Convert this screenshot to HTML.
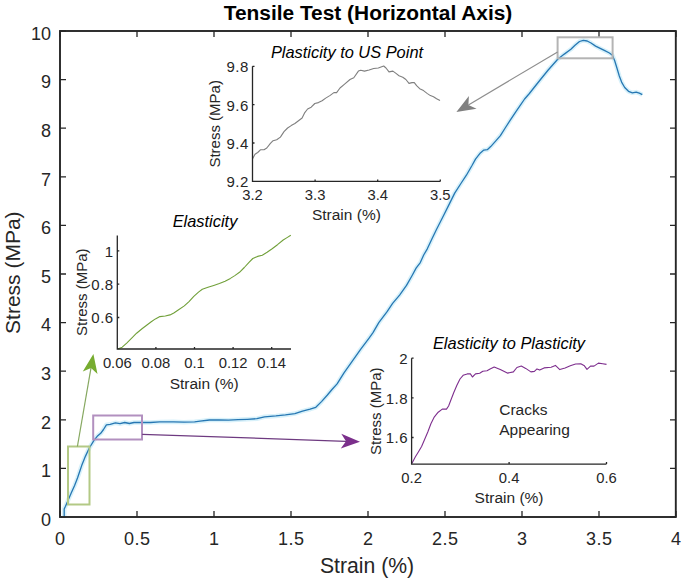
<!DOCTYPE html>
<html><head><meta charset="utf-8"><style>
html,body{margin:0;padding:0;background:#fff;width:685px;height:579px;overflow:hidden;font-family:"Liberation Sans", sans-serif;}
</style></head><body>
<svg width="685" height="579" viewBox="0 0 685 579" style="position:absolute;left:0;top:0"><rect x="0" y="0" width="685" height="579" fill="#ffffff"/><path d="M60.0,517V511M60.0,31V37M137.0,517V511M137.0,31V37M214.0,517V511M214.0,31V37M291.0,517V511M291.0,31V37M368.0,517V511M368.0,31V37M445.0,517V511M445.0,31V37M522.0,517V511M522.0,31V37M599.0,517V511M599.0,31V37M676.0,517V511M676.0,31V37M60,517.0H66M676,517.0H670M60,468.4H66M676,468.4H670M60,419.8H66M676,419.8H670M60,371.2H66M676,371.2H670M60,322.6H66M676,322.6H670M60,274.0H66M676,274.0H670M60,225.4H66M676,225.4H670M60,176.8H66M676,176.8H670M60,128.2H66M676,128.2H670M60,79.6H66M676,79.6H670M60,31.0H66M676,31.0H670" stroke="#262626" stroke-width="1.3" fill="none"/><polyline points="64.2,517.5 64.2,509.0 65.5,506.3 68.1,500.2 71.1,493.3 74.6,485.6 77.6,477.8 80.2,470.0 81.7,465.6 85.5,456.1 89.3,448.0 94.0,440.4 97.8,435.7 100.7,433.3 103.5,429.5 106.4,424.8 110.2,424.3 115.4,422.8 120.0,423.7 124.7,422.5 129.4,423.5 134.0,422.5 141.0,422.3 150.4,422.5 159.7,421.9 173.6,421.8 184.0,422.2 194.6,421.8 200.0,421.2 209.5,420.0 219.0,420.0 228.5,420.2 238.0,419.7 247.4,419.3 256.9,418.7 264.5,416.8 275.9,415.9 285.4,414.9 294.9,413.6 302.5,411.1 310.1,409.2 315.8,407.3 321.5,401.6 327.4,395.0 332.0,389.5 337.1,383.9 344.0,372.8 352.3,361.1 360.6,349.4 368.9,338.3 373.0,332.6 378.8,322.7 387.1,311.7 392.6,303.4 399.6,295.1 406.5,285.4 412.0,275.7 416.1,268.1 420.3,262.6 423.7,255.0 427.3,248.8 432.0,238.7 436.6,229.3 441.3,220.0 444.2,214.2 448.5,205.6 454.7,193.1 460.9,183.5 466.4,175.2 472.0,165.5 475.5,159.1 480.4,152.9 483.8,150.1 487.3,149.7 490.7,146.6 495.6,141.1 500.4,135.6 505.2,128.0 510.1,120.4 515.6,112.1 520.4,105.2 524.6,99.0 529.4,93.5 533.7,88.0 541.3,78.5 548.2,70.0 557.7,59.2 564.3,54.1 570.9,49.3 575.0,45.3 579.5,41.5 583.3,40.4 587.2,41.0 591.0,43.0 595.6,46.1 600.2,48.4 604.8,50.7 609.4,53.0 612.4,55.3 614.7,60.7 617.0,68.3 619.3,76.0 621.6,82.1 624.7,87.5 628.5,91.3 632.4,92.8 636.2,92.1 639.3,93.2 642.3,94.7" fill="none" stroke="#d8f1fa" stroke-width="4.5" stroke-linejoin="round"/><polyline points="64.2,517.5 64.2,509.0 65.5,506.3 68.1,500.2 71.1,493.3 74.6,485.6 77.6,477.8 80.2,470.0 81.7,465.6 85.5,456.1 89.3,448.0 94.0,440.4 97.8,435.7 100.7,433.3 103.5,429.5 106.4,424.8 110.2,424.3 115.4,422.8 120.0,423.7 124.7,422.5 129.4,423.5 134.0,422.5 141.0,422.3 150.4,422.5 159.7,421.9 173.6,421.8 184.0,422.2 194.6,421.8 200.0,421.2 209.5,420.0 219.0,420.0 228.5,420.2 238.0,419.7 247.4,419.3 256.9,418.7 264.5,416.8 275.9,415.9 285.4,414.9 294.9,413.6 302.5,411.1 310.1,409.2 315.8,407.3 321.5,401.6 327.4,395.0 332.0,389.5 337.1,383.9 344.0,372.8 352.3,361.1 360.6,349.4 368.9,338.3 373.0,332.6 378.8,322.7 387.1,311.7 392.6,303.4 399.6,295.1 406.5,285.4 412.0,275.7 416.1,268.1 420.3,262.6 423.7,255.0 427.3,248.8 432.0,238.7 436.6,229.3 441.3,220.0 444.2,214.2 448.5,205.6 454.7,193.1 460.9,183.5 466.4,175.2 472.0,165.5 475.5,159.1 480.4,152.9 483.8,150.1 487.3,149.7 490.7,146.6 495.6,141.1 500.4,135.6 505.2,128.0 510.1,120.4 515.6,112.1 520.4,105.2 524.6,99.0 529.4,93.5 533.7,88.0 541.3,78.5 548.2,70.0 557.7,59.2 564.3,54.1 570.9,49.3 575.0,45.3 579.5,41.5 583.3,40.4 587.2,41.0 591.0,43.0 595.6,46.1 600.2,48.4 604.8,50.7 609.4,53.0 612.4,55.3 614.7,60.7 617.0,68.3 619.3,76.0 621.6,82.1 624.7,87.5 628.5,91.3 632.4,92.8 636.2,92.1 639.3,93.2 642.3,94.7" fill="none" stroke="#2677b3" stroke-width="1.3" stroke-linejoin="round"/><rect x="68" y="446.5" width="21.5" height="58" fill="none" stroke="#b3c985" stroke-width="2"/><rect x="93.2" y="415.5" width="48.8" height="24" fill="none" stroke="#b290bf" stroke-width="2"/><rect x="557.6" y="37.3" width="55" height="21" fill="none" stroke="#b4b4b4" stroke-width="2"/><line x1="77.4" y1="446.5" x2="91.0" y2="367.9" stroke="#86a860" stroke-width="1.2"/><path d="M93.4,354.1L97.5,374.1L91.0,367.9L82.8,371.5Z" fill="#77ac30"/><line x1="142.2" y1="434.3" x2="346.0" y2="441.3" stroke="#6e3a80" stroke-width="1.2"/><path d="M360,441.8L340.8,448.6L346.0,441.3L341.3,433.7Z" fill="#7b2f8b"/><line x1="557.6" y1="52" x2="468.4" y2="104.9" stroke="#8e8e8e" stroke-width="1.2"/><path d="M456.4,112L468.9,95.9L468.4,104.9L476.6,108.8Z" fill="#808080"/><rect x="60" y="31" width="615.8" height="486" fill="none" stroke="#262626" stroke-width="1.9"/><g font-family='"Liberation Sans", sans-serif' font-size="18" fill="#262626"><text x="60.2" y="544.7" text-anchor="middle" letter-spacing="0.4">0</text><text x="137.2" y="544.7" text-anchor="middle" letter-spacing="0.4">0.5</text><text x="214.2" y="544.7" text-anchor="middle" letter-spacing="0.4">1</text><text x="291.2" y="544.7" text-anchor="middle" letter-spacing="0.4">1.5</text><text x="368.2" y="544.7" text-anchor="middle" letter-spacing="0.4">2</text><text x="445.2" y="544.7" text-anchor="middle" letter-spacing="0.4">2.5</text><text x="522.2" y="544.7" text-anchor="middle" letter-spacing="0.4">3</text><text x="599.2" y="544.7" text-anchor="middle" letter-spacing="0.4">3.5</text><text x="676.2" y="544.7" text-anchor="middle" letter-spacing="0.4">4</text><text x="51" y="525.7" text-anchor="end">0</text><text x="51" y="477.1" text-anchor="end">1</text><text x="51" y="428.5" text-anchor="end">2</text><text x="51" y="379.9" text-anchor="end">3</text><text x="51" y="331.3" text-anchor="end">4</text><text x="51" y="282.7" text-anchor="end">5</text><text x="51" y="234.1" text-anchor="end">6</text><text x="51" y="185.5" text-anchor="end">7</text><text x="51" y="136.9" text-anchor="end">8</text><text x="51" y="88.3" text-anchor="end">9</text><text x="51" y="39.7" text-anchor="end">10</text></g><text x="368" y="19.8" text-anchor="middle" font-family='"Liberation Sans", sans-serif' font-size="20.9" font-weight="bold" fill="#000">Tensile Test (Horizontal Axis)</text><text x="367" y="572.8" text-anchor="middle" font-family='"Liberation Sans", sans-serif' font-size="21.2" fill="#262626">Strain (%)</text><text transform="translate(19.7,272.7) rotate(-90)" text-anchor="middle" font-family='"Liberation Sans", sans-serif' font-size="21" fill="#262626">Stress (MPa)</text><polyline points="117.7,349.0 122.2,347.2 126.7,343.1 131.2,338.6 136.6,333.2 142.0,328.8 147.3,324.7 150.9,322.0 155.4,318.9 159.9,316.6 165.3,316.0 170.0,314.9 173.8,313.0 178.6,309.7 184.3,305.9 189.0,301.6 193.8,296.4 198.5,292.1 202.3,289.2 208.0,287.3 213.7,285.4 219.4,283.5 225.1,281.2 230.4,278.4 234.8,275.6 239.5,272.3 244.3,267.5 249.0,262.3 252.8,258.5 257.6,256.4 262.3,255.2 267.1,252.3 271.8,249.0 277.5,244.7 283.2,240.0 287.0,237.6 290.8,235.2" fill="none" stroke="#71a03a" stroke-width="1.1" stroke-linejoin="round"/><path d="M117.3,235.5V349H291M117.3,349V347M155.9,349V347M194.5,349V347M233.1,349V347M271.7,349V347M117.3,317.5H119.3M117.3,284.2H119.3M117.3,250.8H119.3" stroke="#262626" stroke-width="1.3" fill="none"/><g font-family='"Liberation Sans", sans-serif' font-size="14.8" fill="#262626"><text x="117.3" y="368" text-anchor="middle">0.06</text><text x="155.9" y="368" text-anchor="middle">0.08</text><text x="194.5" y="368" text-anchor="middle">0.1</text><text x="233.1" y="368" text-anchor="middle">0.12</text><text x="271.7" y="368" text-anchor="middle">0.14</text><text x="113.7" y="323.3" text-anchor="end" font-size="15" letter-spacing="0.5">0.6</text><text x="113.7" y="290.0" text-anchor="end" font-size="15" letter-spacing="0.5">0.8</text><text x="113.7" y="256.6" text-anchor="end" font-size="15" letter-spacing="0.5">1</text></g><text x="205" y="227.2" text-anchor="middle" font-family='"Liberation Sans", sans-serif' font-size="16.4" font-style="italic" fill="#000">Elasticity</text><text x="204.15" y="389" text-anchor="middle" font-family='"Liberation Sans", sans-serif' font-size="15.5" fill="#262626">Strain (%)</text><text transform="translate(87,292.25) rotate(-90)" text-anchor="middle" font-family='"Liberation Sans", sans-serif' font-size="15" fill="#262626">Stress (MPa)</text><polyline points="252.6,158.8 255.0,154.3 257.7,152.5 260.4,149.8 264.0,149.8 266.8,148.0 270.4,143.4 273.1,140.7 276.7,139.8 280.4,137.1 284.0,131.6 287.6,128.0 291.2,125.6 294.9,123.5 298.5,120.8 302.1,118.0 304.8,112.6 307.6,109.0 311.2,107.2 314.8,103.5 318.4,102.6 322.1,100.8 325.7,98.1 330.2,95.4 333.9,92.6 336.6,92.6 340.0,88.0 344.6,84.1 350.0,79.5 353.8,77.7 358.4,71.1 360.7,70.3 364.5,71.1 369.1,70.0 373.7,68.5 378.3,68.0 383.7,66.0 386.0,68.0 389.0,71.9 392.9,71.1 396.0,73.4 399.0,75.7 402.8,77.2 405.9,79.5 409.0,83.4 412.0,82.6 414.3,82.6 416.6,85.7 419.7,88.7 423.5,90.6 427.4,93.6 430.4,95.6 433.5,96.7 436.6,98.7 440.0,100.5" fill="none" stroke="#7f7f7f" stroke-width="1.1" stroke-linejoin="round"/><path d="M252.5,66.3V181.4H440.3M252.5,181.4V179.4M315.1,181.4V179.4M377.7,181.4V179.4M440.3,181.4V179.4M252.5,181.4H254.5M252.5,143.0H254.5M252.5,104.7H254.5M252.5,66.3H254.5" stroke="#262626" stroke-width="1.3" fill="none"/><g font-family='"Liberation Sans", sans-serif' font-size="14.8" fill="#262626"><text x="252.5" y="200.4" text-anchor="middle">3.2</text><text x="315.1" y="200.4" text-anchor="middle">3.3</text><text x="377.7" y="200.4" text-anchor="middle">3.4</text><text x="440.3" y="200.4" text-anchor="middle">3.5</text><text x="248.9" y="187.2" text-anchor="end" font-size="15" letter-spacing="0.5">9.2</text><text x="248.9" y="148.8" text-anchor="end" font-size="15" letter-spacing="0.5">9.4</text><text x="248.9" y="110.5" text-anchor="end" font-size="15" letter-spacing="0.5">9.6</text><text x="248.9" y="72.1" text-anchor="end" font-size="15" letter-spacing="0.5">9.8</text></g><text x="347" y="57.8" text-anchor="middle" font-family='"Liberation Sans", sans-serif' font-size="16.4" font-style="italic" fill="#000">Plasticity to US Point</text><text x="346.4" y="220" text-anchor="middle" font-family='"Liberation Sans", sans-serif' font-size="15.5" fill="#262626">Strain (%)</text><text transform="translate(219.5,123.85) rotate(-90)" text-anchor="middle" font-family='"Liberation Sans", sans-serif' font-size="15" fill="#262626">Stress (MPa)</text><polyline points="412.0,463.3 415.4,456.8 418.5,451.7 421.6,446.5 424.7,439.2 427.8,432.0 430.9,423.7 434.0,417.4 438.2,412.2 442.3,409.1 446.5,409.1 448.6,406.0 450.6,400.8 453.8,392.5 456.9,385.3 460.0,379.0 463.1,375.3 467.2,373.9 470.4,373.9 472.4,377.0 475.5,373.9 479.7,373.2 482.8,371.2 487.0,370.7 490.1,369.1 494.2,367.0 498.4,368.7 500.3,369.6 507.3,373.1 513.4,371.9 516.9,367.5 521.3,366.1 525.7,368.4 530.9,371.9 534.4,371.4 537.0,368.9 539.7,370.1 544.1,367.9 551.1,367.2 555.4,365.4 559.8,369.6 565.1,367.9 570.3,365.8 575.6,364.0 580.8,363.7 584.4,365.8 587.0,369.3 590.5,366.1 594.0,366.1 598.4,363.1 602.7,363.7 606.5,364.4" fill="none" stroke="#7e2f8e" stroke-width="1.1" stroke-linejoin="round"/><path d="M411.6,358.2V464.1H606.5M411.6,464.1V462.1M509.1,464.1V462.1M606.5,464.1V462.1M411.6,437.5H413.6M411.6,397.9H413.6M411.6,358.2H413.6" stroke="#262626" stroke-width="1.3" fill="none"/><g font-family='"Liberation Sans", sans-serif' font-size="14.8" fill="#262626"><text x="411.6" y="483.1" text-anchor="middle">0.2</text><text x="509.1" y="483.1" text-anchor="middle">0.4</text><text x="606.5" y="483.1" text-anchor="middle">0.6</text><text x="408.0" y="443.3" text-anchor="end" font-size="15" letter-spacing="0.5">1.6</text><text x="408.0" y="403.7" text-anchor="end" font-size="15" letter-spacing="0.5">1.8</text><text x="408.0" y="364.0" text-anchor="end" font-size="15" letter-spacing="0.5">2</text></g><text x="509" y="349" text-anchor="middle" font-family='"Liberation Sans", sans-serif' font-size="16.4" font-style="italic" fill="#000">Elasticity to Plasticity</text><text x="509.05" y="503" text-anchor="middle" font-family='"Liberation Sans", sans-serif' font-size="15.5" fill="#262626">Strain (%)</text><text transform="translate(381,411.15) rotate(-90)" text-anchor="middle" font-family='"Liberation Sans", sans-serif' font-size="15" fill="#262626">Stress (MPa)</text><g font-family='"Liberation Sans", sans-serif' font-size="15.5" fill="#262626"><text x="499.2" y="415.2">Cracks</text><text x="499.2" y="434.6">Appearing</text></g></svg>
</body></html>
